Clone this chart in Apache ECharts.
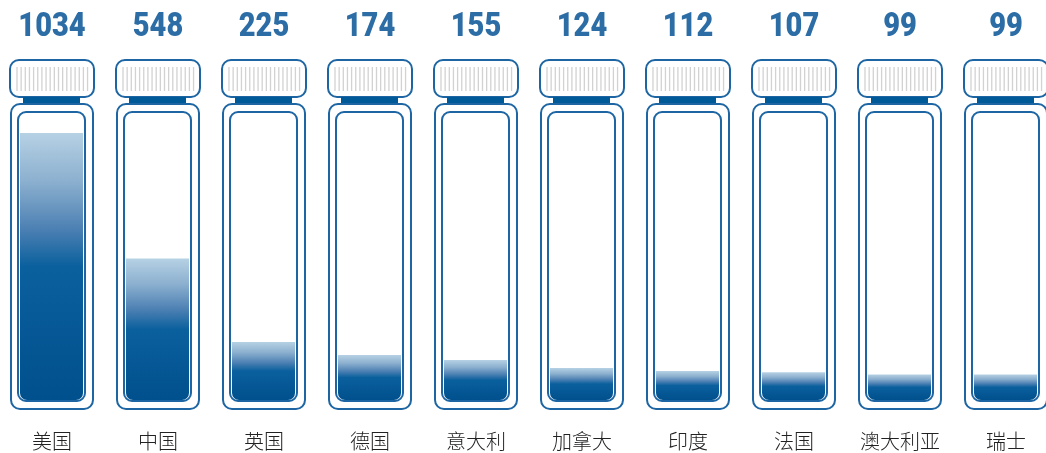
<!DOCTYPE html>
<html>
<head>
<meta charset="utf-8">
<script src="https://cdn.jsdelivr.net/npm/echarts@6/dist/echarts.min.js"></script>
<style>
html,body{margin:0;padding:0;background:#fff;}
#chart{width:1046px;height:453px;}
</style>
</head>
<body>
<div id="chart"></div>
<script>
const categories = ['美国','中国','英国','德国','意大利','加拿大','印度','法国','澳大利亚','瑞士'];
const values = [1034, 548, 225, 174, 155, 124, 112, 107, 99, 99];

const chart = echarts.init(document.getElementById('chart'), null, {renderer: 'canvas'});
const STROKE = '#1d66a3';
const DARK = '#005a98';

function renderItem(params, api) {
  const i = api.value(0);
  const v = api.value(1);
  const base = api.coord([i, 0]);
  const top = api.coord([i, v]);
  const cx = Math.round(base[0]);
  const y0 = base[1];
  const yv = top[1];
  const children = [];
  // cap
  children.push({type:'rect', shape:{x:cx-42, y:y0-340, width:84, height:37, r:9},
    style:{fill:'#fff', stroke:STROKE, lineWidth:2}});
  for (let k = 0; k < 18; k++) {
    const sx = cx - 35 + k * 4.15;
    children.push({type:'line', shape:{x1:sx, y1:y0-333, x2:sx, y2:y0-309},
      style:{stroke:'#d2d2d2', lineWidth:1.3}});
  }
  // neck band
  children.push({type:'rect', shape:{x:cx-29, y:y0-303, width:57, height:7},
    style:{fill:DARK}});
  // outer body
  children.push({type:'rect', shape:{x:cx-41, y:y0-296, width:82, height:305, r:9},
    style:{fill:'#fff', stroke:STROKE, lineWidth:2}});
  // inner
  children.push({type:'rect', shape:{x:cx-34, y:y0-288, width:67, height:289, r:8},
    style:{fill:'#fff', stroke:STROKE, lineWidth:2}});
  // liquid
  children.push({type:'rect', shape:{x:cx-32, y:yv, width:63, height:y0-yv, r:[0,0,7,7]},
    style:{fill:{type:'linear', x:0, y:0, x2:0, y2:1, colorStops:[
      {offset:0, color:'#b6d1e4'},
      {offset:0.18, color:'#8cb0cf'},
      {offset:0.36, color:'#4c80b3'},
      {offset:0.5, color:'#0a609d'},
      {offset:1, color:'#00508d'}
    ]}}});
  // value label
  children.push({type:'text', x:cx, y:28, scaleX:0.88,
    style:{x:0, y:0, text:String(v), align:'center', verticalAlign:'middle',
    fill:'#2c6da6', font:'900 33px Roboto, sans-serif'}});
  return {type:'group', children};
}

chart.setOption({
  animation: false,
  grid: {left: 52, right: 40, top: 133, bottom: 53},
  xAxis: {
    type: 'category', data: categories, boundaryGap: false,
    axisLine: {show: false}, axisTick: {show: false}, splitLine: {show: false},
    axisLabel: {margin: 31, color: '#222', fontSize: 20, fontWeight: 300,
      fontFamily: '"Noto Sans CJK SC", sans-serif', interval: 0}
  },
  yAxis: {type: 'value', min: 0, max: 1034, show: false},
  series: [{
    type: 'custom',
    renderItem: renderItem,
    clip: false,
    data: values.map((v, i) => [i, v])
  }]
});
</script>
</body>
</html>
